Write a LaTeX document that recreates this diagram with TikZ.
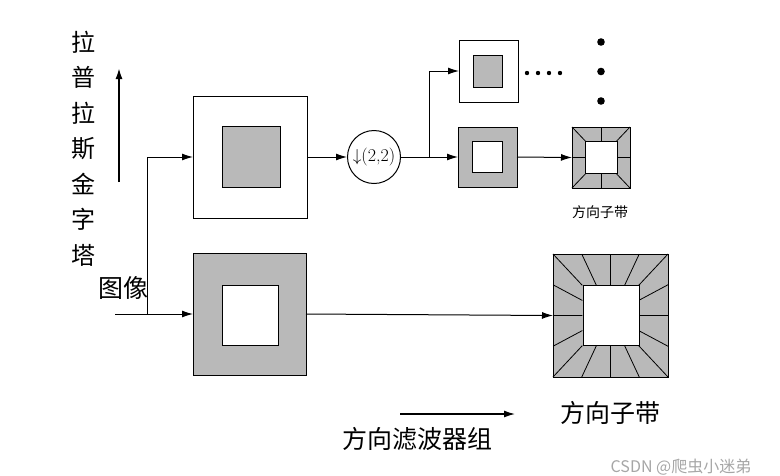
\documentclass[tikz,border=0pt]{standalone}
\usepackage{amsmath, amssymb}
\usepackage{xcolor}
\usepackage{fontspec}
\usepackage{tikz}
\usetikzlibrary{calc, arrows.meta}
\newfontfamily\cjk{Noto Sans CJK SC}

\begin{document}
\begin{tikzpicture}[x=1pt, y=-1pt, >={Latex[length=11pt,width=7pt]}, line width=1pt]
				\useasboundingbox (0,0) rectangle (780,475);
				\tikzset{
					sub/.style={draw, inner sep=0pt, outer sep=0pt},
					hz/.style={font=\cjk\fontsize{#1}{#1}\selectfont, inner sep=0pt}
				}
				
				% pyramid branch
				\node[sub, fill=white, minimum width=114pt, minimum height=122pt] (top) at (250,157) {};
				\node[sub, fill=gray!55, minimum width=58pt, minimum height=61pt] (topin) at (251,156.5) {};
				\node[sub, fill=gray!55, minimum width=113pt, minimum height=122pt] (bot) at (249.5,314) {};
				\node[sub, fill=white, minimum width=56pt, minimum height=60pt] (botin) at (250,315) {};
				
				\node[draw, circle, minimum size=53pt, inner sep=0pt] (down) at (374,157) {\fontsize{18}{18}\selectfont$\downarrow$(2,2)};
				
				\node[sub, fill=white, minimum width=59pt, minimum height=62pt] (upp) at (488.5,71) {};
				\node[sub, fill=gray!55, minimum width=29pt, minimum height=32pt] (uppin) at (487.5,71) {};
				\node[sub, fill=gray!55, minimum width=59pt, minimum height=60pt] (mid) at (487.5,157) {};
				\node[sub, fill=white, minimum width=30pt, minimum height=31pt] (midin) at (487,156.5) {};
				
				% directional subbands
				\node[sub, fill=gray!55, minimum width=58pt, minimum height=61pt] (sdir) at (601,157.5) {};
				\foreach \a/\b in {north west/north east, north east/south east, south east/south west, south west/north west} {
					\foreach \t in {0,0.5} {
						\draw[line width=0.8pt] ($(sdir.\a)!\t!(sdir.\b)$) -- ($(sdir.center)!0.54!($(sdir.\a)!\t!(sdir.\b)$)$);
					}
				}
				\node[sub, fill=white, minimum width=32pt, minimum height=32pt] (sdirin) at (601,157.5) {};
				
				\node[sub, fill=gray!55, minimum width=115pt, minimum height=123pt] (bdir) at (610.5,315.5) {};
				\foreach \a/\b in {north west/north east, north east/south east, south east/south west, south west/north west} {
					\foreach \t in {0,0.25,0.5,0.75} {
						\draw[line width=0.8pt] ($(bdir.\a)!\t!(bdir.\b)$) -- ($(bdir.center)!0.49!($(bdir.\a)!\t!(bdir.\b)$)$);
					}
				}
				\node[sub, fill=white, minimum width=56pt, minimum height=60pt] (bdirin) at (611,315) {};
				
				% connectors
				\coordinate (in) at (115,314);
				\coordinate (split) at (147,314);
				\coordinate (fork) at (429,157);
				\draw[->] (in) -- (bot.west);
				\draw[->] (split) |- (top.west);
				\draw[->] (top.east) -- (down.west);
				\draw[->] (down.east) -- (mid.west);
				\draw[->] (fork) |- (upp.west);
				\draw[->] (mid.east) -- (sdir.west);
				\draw[->] (bot.east) -- (bdir.west);
				
				\foreach \i in {0,...,3} {
					\fill (527+\i*11,73) circle (2.2pt);
				}
				\foreach \i in {0,...,2} {
					\fill (601,42+\i*29.5) circle (3.8pt);
				}
				
				% labels
				\foreach \c [count=\i] in {拉,普,拉,斯,金,字,塔} {
					\node[hz=24] (pyr\i) at (83,{42+(\i-1)*35.5}) {\c};
				}
				\coordinate (pyrB) at (119,182);
				\coordinate (pyrT) at (119,68);
				\draw[->, line width=1.8pt] (pyrB) -- (pyrT);
				\node[hz=25] (img) at (123,288) {图像};
				\node[hz=14] (sublbl) at (600,212) {方向子带};
				\node[hz=25] (bsub) at (610,413) {方向子带};
				\node[hz=25] (fb) at (417,439) {方向滤波器组};
				\coordinate (fbL) at (400,414);
				\coordinate (fbR) at (515,414);
				\draw[->, line width=1.3pt] (fbL) -- (fbR);
				\node[hz=16, text=gray!70] (mark) at (681,467) {CSDN @爬虫小迷弟};
			\end{tikzpicture}
\end{document}
